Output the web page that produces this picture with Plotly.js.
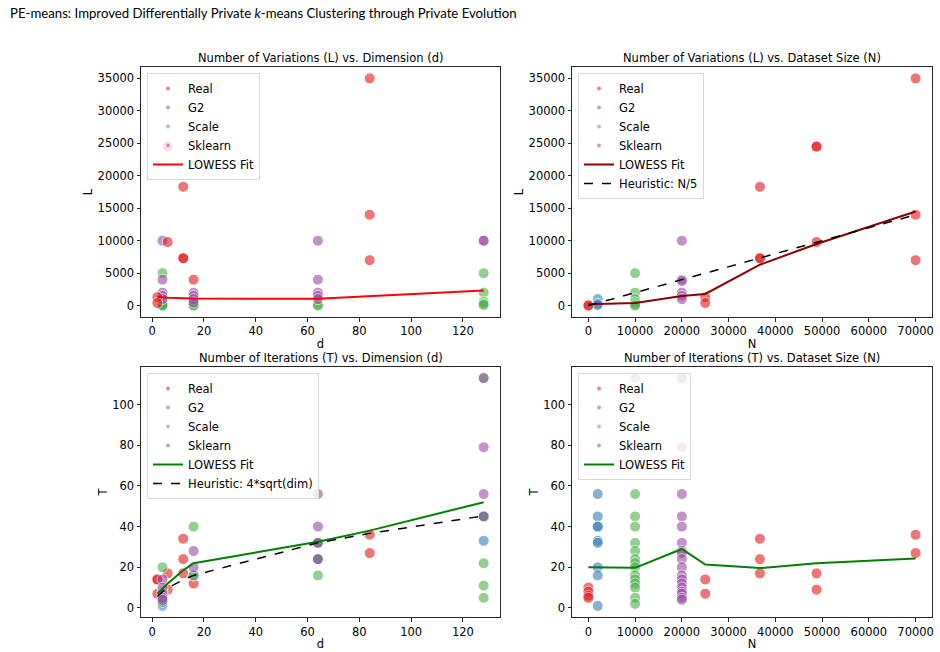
<!DOCTYPE html>
<html>
<head>
<meta charset="utf-8">
<script src="https://cdn.plot.ly/plotly-3.0.1.min.js"></script>
<style>html,body{margin:0;padding:0;background:#fff;}</style>
</head>
<body>
<div id="chart" style="width:940px;height:652px;"></div>
<script>
// ---------- Panel 1: L vs d ----------
const p1_real_d = [2, 2, 6, 6, 12, 12, 12, 16, 84, 84, 84];
const p1_real_L = [1300, 400, 9800, 24500, 18300, 7300, 7300, 4000, 35000, 14000, 7000];
const p1_g2_d = [4, 4, 4];
const p1_g2_L = [1000, 300, 100];
const p1_scale_d = [4, 4, 4, 4, 4, 16, 16, 16, 64, 64, 128, 128, 128, 128, 128];
const p1_scale_L = [5000, 500, 300, 100, 0, 300, 100, 0, 150, 0, 5000, 2000, 600, 300, 100];
const p1_skl_d = [4, 4, 4, 4, 4, 16, 16, 16, 16, 64, 64, 64, 64, 64, 128, 128];
const p1_skl_L = [10000, 4000, 2000, 1500, 1000, 2000, 1500, 1000, 500, 10000, 4000, 2000, 1500, 1000, 10000, 10000];
const p1_lowess_d = [2, 4, 6, 12, 16, 64, 84, 128];
const p1_lowess_L = [1350, 1250, 1200, 1150, 1100, 1050, 1450, 2350];

// ---------- Panel 2: L vs N ----------
const p2_real_N = [0, 0, 25000, 25000, 36700, 36700, 36700, 48800, 48800, 48800, 70000, 70000, 70000];
const p2_real_L = [100, 0, 1300, 400, 18300, 7300, 7300, 24500, 24500, 9800, 35000, 14000, 7000];
const p2_g2_N = [2000, 2000, 2000];
const p2_g2_L = [1000, 300, 100];
const p2_scale_N = [10000, 10000, 10000, 10000, 10000, 10000];
const p2_scale_L = [5000, 2000, 1000, 500, 200, 0];
const p2_skl_N = [20000, 20000, 20000, 20000, 20000, 20000];
const p2_skl_L = [10000, 4000, 3800, 2000, 1500, 1000];
const p2_lowess_N = [0, 2000, 10000, 20000, 25000, 36700, 48800, 70000];
const p2_lowess_L = [200, 250, 400, 1500, 1800, 6300, 9500, 14500];
const p2_heur_N = [0, 70000];
const p2_heur_L = [0, 14000];

// ---------- Panel 3: T vs d ----------
const p3_real_d = [2, 2, 2, 6, 6, 12, 12, 12, 16, 84, 84];
const p3_real_T = [14, 14, 7, 17, 9, 34, 24, 17, 12, 36, 27];
const p3_g2_d = [4, 4, 4, 16, 64, 64, 128, 128];
const p3_g2_T = [1, 2, 3, 16, 24, 32, 33, 45];
const p3_scale_d = [4, 4, 4, 16, 16, 64, 64, 64, 128, 128, 128, 128, 128];
const p3_scale_T = [20, 8, 3, 40, 16, 16, 24, 32, 113, 45, 22, 11, 5];
const p3_skl_d = [4, 4, 4, 4, 4, 16, 16, 64, 64, 64, 64, 128, 128, 128, 128];
const p3_skl_T = [14, 10, 7, 5, 4, 28, 20, 56, 40, 24, 32, 113, 79, 56, 45];
const p3_lowess_d = [2, 4, 6, 12, 16, 64, 84, 128];
const p3_lowess_T = [7, 9.5, 12, 18.5, 22, 32.5, 38, 52];
const p3_heur_d = [2, 4, 6, 12, 16, 64, 84, 128];
const p3_heur_T = [5.66, 8, 9.8, 13.86, 16, 32, 36.66, 45.25];

// ---------- Panel 4: T vs N ----------
const p4_real_N = [0, 0, 0, 0, 25000, 25000, 36700, 36700, 36700, 48800, 48800, 70000, 70000];
const p4_real_T = [10, 8, 6, 5, 14, 7, 34, 24, 17, 17, 9, 36, 27];
const p4_g2_N = [2000, 2000, 2000, 2000, 2000, 2000, 2000, 2000, 2000];
const p4_g2_T = [56, 45, 40, 40, 33, 32, 20, 16, 1];
const p4_scale_N = [10000, 10000, 10000, 10000, 10000, 10000, 10000, 10000, 10000, 10000, 10000, 10000, 10000, 10000, 10000];
const p4_scale_T = [113, 56, 45, 40, 32, 28, 24, 22, 20, 16, 14, 12, 10, 5, 2];
const p4_skl_N = [20000, 20000, 20000, 20000, 20000, 20000, 20000, 20000, 20000, 20000, 20000, 20000, 20000, 20000, 20000, 20000, 20000, 20000];
const p4_skl_T = [113, 79, 56, 45, 40, 32, 28, 27, 24, 20, 16, 14, 12, 10, 8, 7, 5, 4];
const p4_lowess_N = [0, 2000, 10000, 20000, 25000, 36700, 48800, 70000];
const p4_lowess_T = [20, 20, 19.7, 29, 21.3, 19.6, 22, 24.3];

const categories = ['Real', 'G2', 'Scale', 'Sklearn'];
const colors = {Real: '#e41a1c', G2: '#377eb8', Scale: '#4daf4a', Sklearn: '#984ea3'};

const FONT = 'DejaVu Sans, sans-serif';
const FS = 11.5;
const traces = [];

function scat(x, y, cat, xa, ya) {
  traces.push({
    type: 'scatter', mode: 'markers', x: x, y: y, xaxis: xa, yaxis: ya,
    showlegend: false, hoverinfo: 'skip',
    marker: {size: 11, color: colors[cat], opacity: 0.6, line: {color: 'white', width: 1}}
  });
}
function legendDots(leg) {
  categories.forEach(c => {
    traces.push({
      type: 'scatter', mode: 'markers', x: [null], y: [null], name: c, legend: leg,
      marker: {size: 4, color: colors[c], opacity: 0.55}, showlegend: true
    });
  });
}
function line(x, y, name, color, width, dash, xa, ya, leg) {
  traces.push({
    type: 'scatter', mode: 'lines', x: x, y: y, name: name, xaxis: xa, yaxis: ya,
    legend: leg, showlegend: true, hoverinfo: 'skip',
    line: {color: color, width: width, dash: dash}
  });
}

// Panel 1
scat(p1_g2_d, p1_g2_L, 'G2', 'x', 'y');
scat(p1_scale_d, p1_scale_L, 'Scale', 'x', 'y');
scat(p1_skl_d, p1_skl_L, 'Sklearn', 'x', 'y');
scat(p1_real_d, p1_real_L, 'Real', 'x', 'y');
legendDots('legend');
line(p1_lowess_d, p1_lowess_L, 'LOWESS Fit', '#ff0000', 2, 'solid', 'x', 'y', 'legend');

// Panel 2
scat(p2_g2_N, p2_g2_L, 'G2', 'x2', 'y2');
scat(p2_scale_N, p2_scale_L, 'Scale', 'x2', 'y2');
scat(p2_skl_N, p2_skl_L, 'Sklearn', 'x2', 'y2');
scat(p2_real_N, p2_real_L, 'Real', 'x2', 'y2');
legendDots('legend2');
line(p2_lowess_N, p2_lowess_L, 'LOWESS Fit', '#8b0000', 2, 'solid', 'x2', 'y2', 'legend2');
line(p2_heur_N, p2_heur_L, 'Heuristic: N/5', '#000000', 1.5, 'dash', 'x2', 'y2', 'legend2');

// Panel 3
scat(p3_real_d, p3_real_T, 'Real', 'x3', 'y3');
scat(p3_g2_d, p3_g2_T, 'G2', 'x3', 'y3');
scat(p3_scale_d, p3_scale_T, 'Scale', 'x3', 'y3');
scat(p3_skl_d, p3_skl_T, 'Sklearn', 'x3', 'y3');
legendDots('legend3');
line(p3_lowess_d, p3_lowess_T, 'LOWESS Fit', '#008000', 2, 'solid', 'x3', 'y3', 'legend3');
line(p3_heur_d, p3_heur_T, 'Heuristic: 4*sqrt(dim)', '#000000', 1.5, 'dash', 'x3', 'y3', 'legend3');

// Panel 4
scat(p4_real_N, p4_real_T, 'Real', 'x4', 'y4');
scat(p4_g2_N, p4_g2_T, 'G2', 'x4', 'y4');
scat(p4_scale_N, p4_scale_T, 'Scale', 'x4', 'y4');
scat(p4_skl_N, p4_skl_T, 'Sklearn', 'x4', 'y4');
legendDots('legend4');
line(p4_lowess_N, p4_lowess_T, 'LOWESS Fit', '#008000', 2, 'solid', 'x4', 'y4', 'legend4');

const W = 940, H = 652;
const xL = [141 / W, 500 / W], xR = [572 / W, 932 / W];
const yT = [1 - 317 / H, 1 - 67 / H], yB = [1 - 617.3 / H, 1 - 366.7 / H];

function ax(domain, range, dtick, title, anchor) {
  return {
    domain: domain, range: range, dtick: dtick, tick0: 0, anchor: anchor,
    showgrid: false, zeroline: false, showline: true, mirror: true,
    linecolor: '#262626', linewidth: 1, ticks: 'outside', ticklen: 3.5, tickwidth: 1,
    tickcolor: '#262626', tickformat: 'd', tickfont: {family: FONT, size: FS, color: '#000'},
    title: {text: title, font: {family: FONT, size: FS, color: '#000'}, standoff: 2}
  };
}

function legendCfg(xpx, ypx) {
  return {
    x: xpx / W, y: 1 - ypx / H, xanchor: 'left', yanchor: 'top', xref: 'paper', yref: 'paper',
    bgcolor: 'rgba(255,255,255,0.8)', bordercolor: '#d8d8d8', borderwidth: 1,
    font: {family: FONT, size: FS, color: '#000'}, itemwidth: 30, tracegroupgap: 0
  };
}

const subTitles = [
  ['Number of Variations (L) vs. Dimension (d)', (xL[0] + xL[1]) / 2, yT[1]],
  ['Number of Variations (L) vs. Dataset Size (N)', (xR[0] + xR[1]) / 2, yT[1]],
  ['Number of Iterations (T) vs. Dimension (d)', (xL[0] + xL[1]) / 2, yB[1]],
  ['Number of Iterations (T) vs. Dataset Size (N)', (xR[0] + xR[1]) / 2, yB[1]]
];

const annotations = subTitles.map(s => ({
  text: s[0], x: s[1], y: s[2], xref: 'paper', yref: 'paper', xanchor: 'center', yanchor: 'bottom',
  yshift: 0, showarrow: false, font: {family: FONT, size: FS, color: '#000'}
}));
annotations.push({
  text: 'PE-means: Improved Differentially Private <i>k</i>-means Clustering through Private Evolution',
  x: 8 / W, y: 1 - 3 / H, xref: 'paper', yref: 'paper', xanchor: 'left', yanchor: 'top',
  showarrow: false, font: {family: 'Lato, sans-serif', size: 13.2, color: '#000'}
});

const layout = {
  width: W, height: H, margin: {l: 0, r: 0, t: 0, b: 0},
  paper_bgcolor: '#fff', plot_bgcolor: '#fff',
  xaxis: ax(xL, [-4.3, 134.3], 20, 'd', 'y'),
  yaxis: ax(yT, [-1750, 36750], 5000, 'L', 'x'),
  xaxis2: ax(xR, [-3500, 73500], 10000, 'N', 'y2'),
  yaxis2: ax(yT, [-1750, 36750], 5000, 'L', 'x2'),
  xaxis3: ax(xL, [-4.3, 134.3], 20, 'd', 'y3'),
  yaxis3: ax(yB, [-4.6, 118.6], 20, 'T', 'x3'),
  xaxis4: ax(xR, [-3500, 73500], 10000, 'N', 'y4'),
  yaxis4: ax(yB, [-4.6, 118.6], 20, 'T', 'x4'),
  legend: legendCfg(147, 73),
  legend2: legendCfg(578, 73),
  legend3: legendCfg(147, 373),
  legend4: legendCfg(578, 373),
  annotations: annotations,
  showlegend: true
};

Plotly.newPlot('chart', traces, layout, {staticPlot: true, displayModeBar: false});
</script>
</body>
</html>
